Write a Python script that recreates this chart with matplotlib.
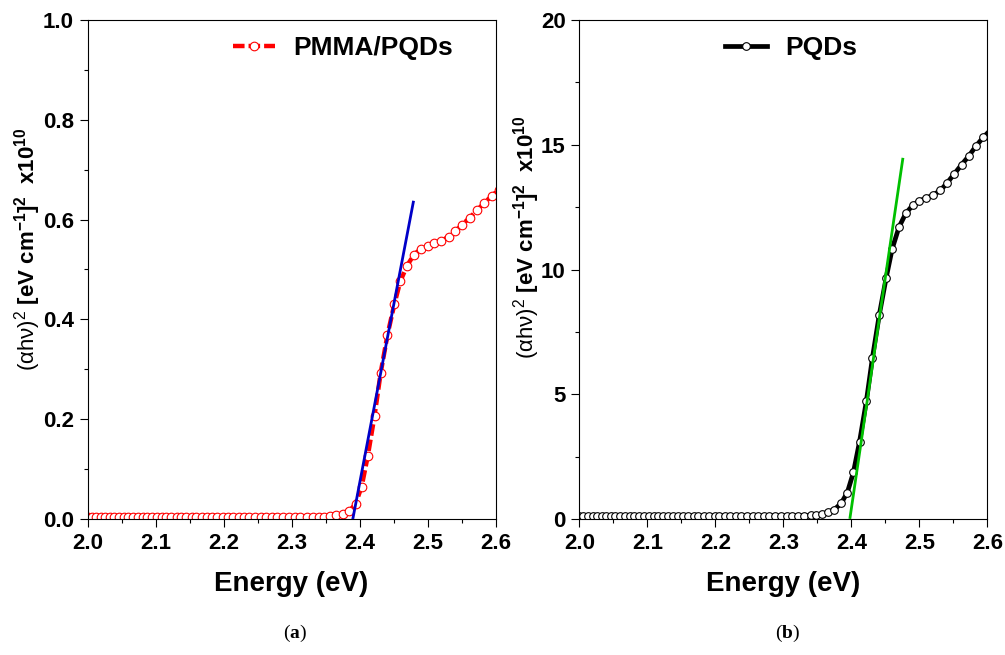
#! /usr/bin/env python3

import matplotlib
matplotlib.use("Agg")
import matplotlib.pyplot as plt
from matplotlib.lines import Line2D
from matplotlib.text import Annotation
from matplotlib.ticker import MultipleLocator

plt.rcParams["font.family"] = ["Liberation Sans", "DejaVu Sans"]
plt.rcParams["mathtext.fontset"] = "custom"
plt.rcParams["mathtext.rm"] = "Liberation Sans"
plt.rcParams["mathtext.it"] = "Liberation Sans:italic"
plt.rcParams["mathtext.bf"] = "Liberation Sans:bold"

"""
Donnees lues sur la figure
"""

energie = [2.000, 2.006, 2.013, 2.020, 2.026, 2.033, 2.039, 2.046, 2.053, 2.060,
           2.067, 2.074, 2.081, 2.088, 2.095, 2.102, 2.109, 2.116, 2.123, 2.131,
           2.138, 2.145, 2.153, 2.160, 2.168, 2.175, 2.183, 2.191, 2.199, 2.206,
           2.214, 2.222, 2.230, 2.238, 2.246, 2.255, 2.263, 2.271, 2.279, 2.288,
           2.296, 2.305, 2.313, 2.322, 2.331, 2.340, 2.348, 2.357, 2.366, 2.375,
           2.385, 2.394, 2.403, 2.412, 2.422, 2.431, 2.441, 2.451, 2.460, 2.470,
           2.480, 2.490, 2.500, 2.510, 2.520, 2.531, 2.541, 2.551, 2.562, 2.573,
           2.583, 2.594, 2.605]

pmma_pqds = [0.004, 0.004, 0.004, 0.004, 0.004, 0.004, 0.004, 0.004, 0.004, 0.004,
             0.004, 0.004, 0.004, 0.004, 0.004, 0.004, 0.004, 0.004, 0.004, 0.004,
             0.004, 0.004, 0.004, 0.004, 0.004, 0.004, 0.004, 0.004, 0.004, 0.004,
             0.004, 0.004, 0.004, 0.004, 0.004, 0.004, 0.004, 0.004, 0.004, 0.004,
             0.004, 0.004, 0.004, 0.004, 0.004, 0.004, 0.005, 0.006, 0.008, 0.010,
             0.016, 0.030, 0.065, 0.126, 0.207, 0.293, 0.369, 0.430, 0.477, 0.508,
             0.530, 0.541, 0.548, 0.553, 0.557, 0.566, 0.577, 0.590, 0.604, 0.619,
             0.633, 0.647, 0.660]

pqds = [0.12, 0.12, 0.12, 0.12, 0.12, 0.12, 0.12, 0.12, 0.12, 0.12,
        0.12, 0.12, 0.12, 0.12, 0.12, 0.12, 0.12, 0.12, 0.12, 0.12,
        0.12, 0.12, 0.12, 0.12, 0.12, 0.12, 0.12, 0.12, 0.12, 0.12,
        0.12, 0.12, 0.12, 0.12, 0.12, 0.12, 0.12, 0.12, 0.12, 0.12,
        0.12, 0.13, 0.13, 0.13, 0.13, 0.15, 0.17, 0.20, 0.27, 0.38,
        0.63, 1.06, 1.87, 3.10, 4.72, 6.47, 8.18, 9.65, 10.83, 11.70,
        12.25, 12.57, 12.75, 12.86, 12.98, 13.17, 13.48, 13.82, 14.20, 14.56,
        14.94, 15.30, 15.60]

# droites d'ajustement (extremites lues)
fit_a_x = [2.390, 2.479]
fit_a_y = [0.000, 0.635]
fit_b_x = [2.398, 2.4755]
fit_b_y = [0.06, 14.42]

ylabel = r"$\mathregular{(\alpha h\nu)^2}$ $\mathbf{[eV\ cm^{-1}]^2\ \ x10^{10}}$"

"""
Figure
"""

fig = plt.figure(figsize=(10.05, 6.55), dpi=100)

ax1 = fig.add_axes([87.6 / 1005, 1 - 519 / 655, 408 / 1005, 499 / 655])
ax2 = fig.add_axes([579.4 / 1005, 1 - 519 / 655, 408 / 1005, 499 / 655])

ax1.plot(energie, pmma_pqds, color="red", lw=3.2, dashes=(2.6, 0.9), marker="o",
         ms=6.2, mfc="white", mec="red", mew=0.8, zorder=2)
ax1.plot(fit_a_x, fit_a_y, color="#0000c8", lw=2, zorder=3)

ax2.plot(energie, pqds, color="black", lw=3.4, marker="o",
         ms=5.5, mfc="white", mec="black", mew=0.8, zorder=2)
ax2.plot(fit_b_x, fit_b_y, color="#00c000", lw=2, zorder=3)

ax1.set_ylim(0, 1.0)
ax1.set_yticks([0.0, 0.2, 0.4, 0.6, 0.8, 1.0])
ax1.set_yticklabels(["0.0", "0.2", "0.4", "0.6", "0.8", "1.0"])
ax1.yaxis.set_minor_locator(MultipleLocator(0.1))

ax2.set_ylim(0, 20)
ax2.yaxis.set_major_locator(MultipleLocator(5))
ax2.yaxis.set_minor_locator(MultipleLocator(2.5))

for ax in (ax1, ax2):
    ax.set_xlim(2.0, 2.6)
    ax.xaxis.set_major_locator(MultipleLocator(0.1))
    ax.xaxis.set_minor_locator(MultipleLocator(0.05))
    ax.tick_params(which="both", direction="out", top=False, right=False,
                   width=0.8, labelsize=16, pad=4)
    ax.tick_params(which="major", length=6)
    ax.tick_params(which="minor", length=3)
    for lab in ax.get_xticklabels() + ax.get_yticklabels():
        lab.set_fontweight("bold")
    for s in ax.spines.values():
        s.set_linewidth(0.8)
    ax.set_xlabel("Energy (eV)", fontsize=20, fontweight="bold", labelpad=12)

ax1.text(-0.147, 0.54, ylabel, transform=ax1.transAxes, rotation=90,
         ha="center", va="center", fontsize=16)
ax2.text(-0.130, 0.565, ylabel, transform=ax2.transAxes, rotation=90,
         ha="center", va="center", fontsize=16)

h1 = Line2D([], [], color="red", lw=3.2, dashes=(2.6, 0.9), marker="o", ms=6.2,
            mfc="white", mec="red", mew=0.8)
h2 = Line2D([], [], color="black", lw=3.4, marker="o", ms=5.5,
            mfc="white", mec="black", mew=0.8)

for ax, h, nom in [(ax1, h1, "PMMA/PQDs"), (ax2, h2, "PQDs")]:
    ax.legend([h], [nom], loc="upper left", bbox_to_anchor=(0.356, 0.967),
              frameon=False, prop={"weight": "bold", "size": 19},
              handlelength=1.6, handletextpad=0.7, borderpad=0,
              borderaxespad=0, numpoints=1)

# legendes (a) et (b)
for x0, lettre in [(283 / 1005, "a"), (775 / 1005, "b")]:
    t1 = fig.text(x0, 0.02, "(", family="Liberation Serif", fontsize=14,
                  va="bottom")
    t2 = Annotation(lettre, xy=(1, 0), xycoords=t1, va="bottom",
                    family="Liberation Serif", fontsize=14, fontweight="bold")
    fig.add_artist(t2)
    t3 = Annotation(")", xy=(1, 0), xycoords=t2, va="bottom",
                    family="Liberation Serif", fontsize=14)
    fig.add_artist(t3)

fig.savefig("out.png", dpi=100)
